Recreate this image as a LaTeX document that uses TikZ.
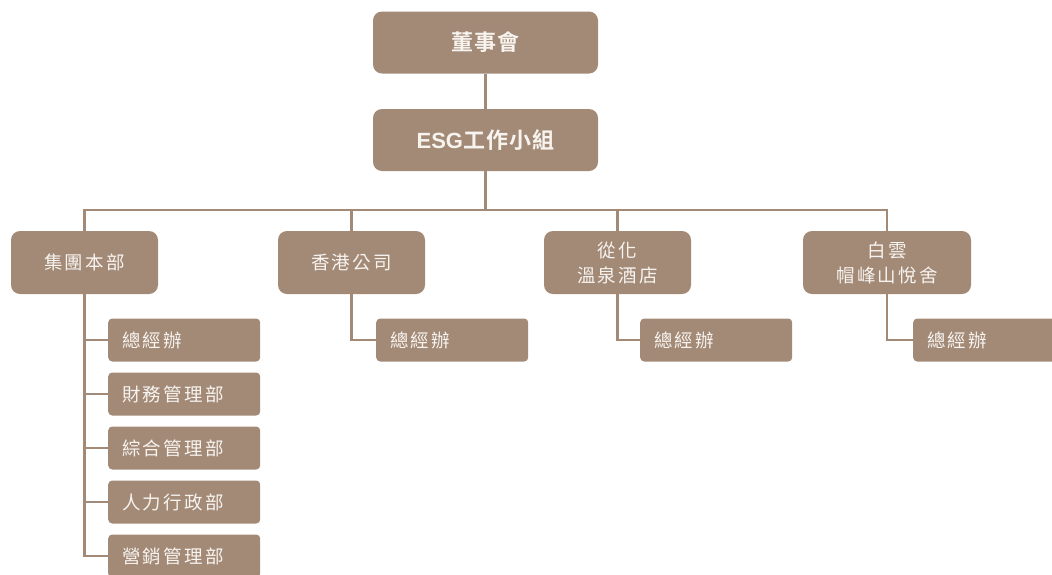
\documentclass[tikz,border=0pt]{standalone}
\usepackage{fontspec}
\newfontfamily\cjk{Noto Sans CJK TC}[LetterSpace=12]
\newfontfamily\cjkbold{Noto Sans CJK TC Bold}[LetterSpace=5]
\newfontfamily\latinbold{Liberation Sans Bold}
\definecolor{brownbox}{HTML}{A38A77}
\definecolor{boxtext}{HTML}{F7F3EF}
\tikzset{
  topbox/.style={fill=brownbox,rounded corners=9pt,minimum width=225pt,minimum height=62pt,
    text=boxtext,font=\cjkbold\fontsize{22}{26}\selectfont},
  deptbox/.style={fill=brownbox,rounded corners=9pt,minimum width=147pt,minimum height=63pt,
    text=boxtext,align=center,font=\cjk\fontsize{18.5}{25}\selectfont},
  subbox/.style={fill=brownbox,rounded corners=4pt,anchor=west,minimum height=43pt,
    text width=124pt,inner xsep=14pt,align=left,text=boxtext,font=\cjk\fontsize{18.5}{21}\selectfont},
  link/.style={draw=brownbox,line width=2.5pt}
}
\begin{document}
\begin{tikzpicture}[x=1pt,y=-1pt]
\useasboundingbox (0,0) rectangle (1052,574);
\clip (0,0) rectangle (1052,574);

% top of the chart
\node[topbox] (board) at (485.5,42.5) {董事會};
\node[topbox] (esg) at (485.5,140) {{\latinbold ESG}工作小組};
\coordinate (bus) at (485.5,210);

% departments
\node[deptbox] (hq) at (84.5,262.5) {集團本部};
\node[deptbox] (hk) at (351.5,262.5) {香港公司};
\node[deptbox] (conghua) at (617.5,262.5) {從化\\溫泉酒店};
\node[deptbox,minimum width=168pt] (baiyun) at (887,262.5) {白雲\\帽峰山悅舍};

% offices under group head office
\foreach \y/\name [count=\i] in {340/總經辦,394/財務管理部,448/綜合管理部,502/人力行政部,556/營銷管理部}
    \node[subbox] (hqsub\i) at (108,\y) {\name};

\node[subbox] (hksub) at (376,340) {總經辦};
\node[subbox] (conghuasub) at (640,340) {總經辦};
\node[subbox] (baiyunsub) at (913,340) {總經辦};

% connectors
\draw[link] (board) -- (esg);
\draw[link] (esg) -- (bus);
\foreach \d in {hq,hk,conghua,baiyun}
    \draw[link] (bus) -| (\d.north);
\foreach \i in {1,...,5}
    \draw[link] (hq.south) |- (hqsub\i.west);
\draw[link] (hk.south) |- (hksub.west);
\draw[link] (conghua.south) |- (conghuasub.west);
\draw[link] (baiyun.south) |- (baiyunsub.west);

\end{tikzpicture}
\end{document}
